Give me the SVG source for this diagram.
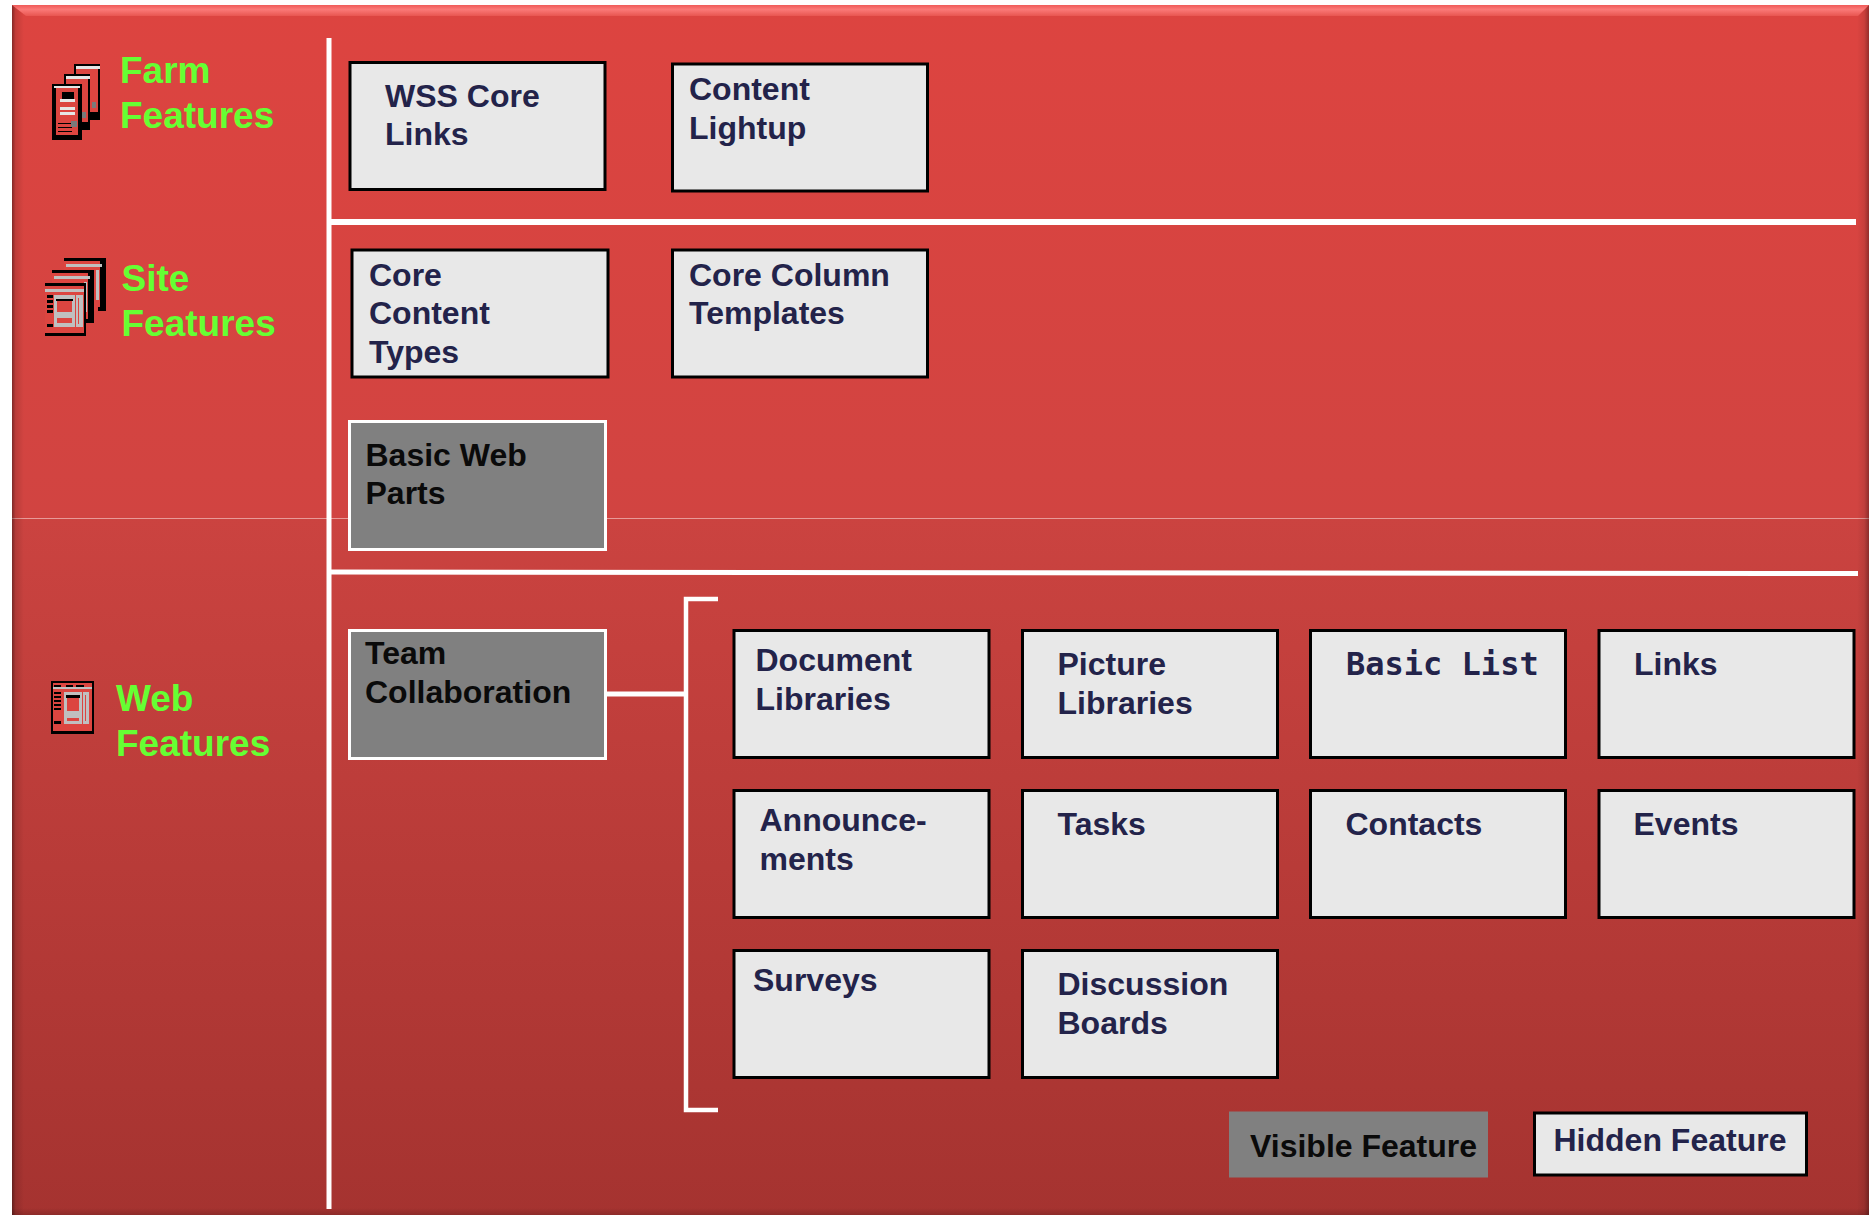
<svg xmlns="http://www.w3.org/2000/svg" width="1869" height="1215" viewBox="0 0 1869 1215">
<style>
text{font-family:"Liberation Sans",Arial,sans-serif;font-weight:700;font-size:32px;fill:#23234a}
.d text,text.d{fill:#0a0a0a}
.g{fill:#66ff33;font-size:37px}
.m{font-family:"DejaVu Sans Mono","Liberation Mono",monospace;font-size:32px}
.h{fill:#e8e8e8;stroke:#000;stroke-width:3}
.v{fill:#808080;stroke:#fff;stroke-width:3}
.w{fill:#fff}
.k{fill:#000}
.l{fill:#e6e6e6}
.s{fill:#c0c0c0}
.r{fill:#dc4540}
.y{fill:#7a7a7a}
</style>
<defs>
<linearGradient id="bg1" x1="0" y1="0" x2="0" y2="1"><stop offset="0" stop-color="#dd4440"/><stop offset="1" stop-color="#d14441"/></linearGradient>
<linearGradient id="bg2" x1="0" y1="0" x2="0" y2="1"><stop offset="0" stop-color="#cb4340"/><stop offset="1" stop-color="#a53330"/></linearGradient>
<linearGradient id="top" x1="0" y1="0" x2="0" y2="1"><stop offset="0" stop-color="#f05a58"/><stop offset=".4" stop-color="#fb7a78"/><stop offset="1" stop-color="#e85550"/></linearGradient>
<linearGradient id="lft" x1="0" y1="0" x2="1" y2="0"><stop offset="0" stop-color="#000" stop-opacity=".4"/><stop offset=".3" stop-color="#000" stop-opacity=".12"/><stop offset="1" stop-color="#000" stop-opacity="0"/></linearGradient>
<linearGradient id="rgt" x1="0" y1="0" x2="1" y2="0"><stop offset="0" stop-color="#000" stop-opacity="0"/><stop offset=".6" stop-color="#000" stop-opacity=".08"/><stop offset="1" stop-color="#000" stop-opacity=".32"/></linearGradient>
<linearGradient id="bot" x1="0" y1="0" x2="0" y2="1"><stop offset="0" stop-color="#000" stop-opacity="0"/><stop offset="1" stop-color="#000" stop-opacity=".15"/></linearGradient>
<g id="farmpage"><rect class="k" x="0" y="0" width="26" height="56"/><rect class="r" x="2" y="4" width="22" height="44"/><rect class="l" x="2" y="2" width="24" height="3"/><rect class="y" x="18" y="38" width="4" height="6"/></g>
<g id="sitepage"><rect class="k" x="0" y="0" width="42" height="53"/><rect class="r" x="0" y="3" width="36" height="46"/><rect class="s" x="2" y="6" width="36" height="3"/><rect class="s" x="32" y="12" width="3" height="30"/><rect class="r" x="0" y="49" width="34" height="4"/></g>
</defs>
<rect width="1869" height="1215" fill="#fff"/>
<rect x="12" y="5" width="1857" height="513" fill="url(#bg1)"/>
<rect x="12" y="518" width="1857" height="697" fill="url(#bg2)"/>
<rect x="12" y="518" width="1857" height="1" fill="#e89a98"/>
<rect x="12" y="5" width="12" height="1210" fill="url(#lft)"/>
<rect x="1857" y="5" width="12" height="1210" fill="url(#rgt)"/>
<rect x="12" y="1208" width="1857" height="7" fill="url(#bot)"/>
<polygon points="12,5 1869,5 1858,16 26,16" fill="url(#top)"/>

<g id="connectors">
<rect class="w" x="326.500" y="38" width="5" height="1171"/>
<rect class="w" x="331" y="219" width="1525" height="6"/>
<polygon class="w" points="331,569.500 1858,571 1858,576 331,574.500"/>
<path d="M718 599H686V1110H718" fill="none" stroke="#fff" stroke-width="4.500"/>
<rect class="w" x="606" y="691.500" width="80" height="5"/>
</g>

<g id="farm-features">
<use href="#farmpage" x="74" y="64"/><use href="#farmpage" x="64" y="74"/>
<rect class="k" x="52" y="84" width="30" height="56"/><rect class="r" x="56" y="88" width="22" height="47"/><rect class="l" x="54" y="86" width="26" height="2"/>
<rect class="k" x="62" y="92" width="12" height="10"/><rect class="l" x="60" y="99" width="15" height="3"/><rect class="l" x="60" y="107" width="15" height="3"/><rect class="l" x="60" y="112" width="15" height="3"/>
<rect class="k" x="58" y="123" width="14" height="1"/><rect class="k" x="58" y="127" width="14" height="1"/><rect class="k" x="58" y="131" width="14" height="1"/>
<rect class="y" x="71" y="121" width="6" height="6"/>
<text class="g"><tspan x="120" y="83">Farm</tspan><tspan x="120" y="128">Features</tspan></text>
</g>
<g id="site-features">
<use href="#sitepage" x="64" y="258"/><use href="#sitepage" x="52" y="270"/>
<rect class="k" x="45" y="283" width="41" height="53"/><rect class="r" x="45" y="286" width="39" height="47"/><rect class="s" x="45" y="289" width="39" height="3"/>
<rect class="k" x="47" y="295" width="6" height="3"/><rect class="k" x="47" y="300" width="6" height="3"/><rect class="k" x="47" y="305" width="6" height="3"/><rect class="k" x="47" y="310" width="6" height="3"/><rect class="k" x="47" y="324" width="6" height="3"/>
<rect class="s" x="54" y="295" width="21" height="32"/><rect class="r" x="57" y="300" width="15" height="12"/><rect class="k" x="56" y="299" width="17" height="2"/><rect class="r" x="57" y="318" width="15" height="5"/>
<rect class="s" x="76" y="295" width="7" height="32"/><rect class="r" x="78" y="298" width="1" height="26"/>
<text class="g"><tspan x="121.500" y="291">Site</tspan><tspan x="121.500" y="336">Features</tspan></text>
</g>
<g id="web-features">
<rect class="k" x="51" y="681" width="43" height="53"/><rect class="r" x="53" y="683" width="39" height="48"/><rect class="k" x="54" y="685" width="7" height="2"/><rect class="k" x="66" y="685" width="7" height="2"/><rect class="k" x="76" y="685" width="8" height="2"/><rect class="s" x="53" y="687" width="39" height="2"/>
<rect class="k" x="54" y="692" width="7" height="2"/><rect class="k" x="54" y="696" width="7" height="2"/><rect class="k" x="54" y="700" width="7" height="2"/><rect class="k" x="54" y="704" width="7" height="2"/><rect class="k" x="54" y="708" width="7" height="2"/><rect class="k" x="54" y="721" width="7" height="3"/>
<rect class="s" x="64" y="692" width="18" height="32"/><rect class="r" x="67" y="697" width="12" height="14"/><rect class="k" x="66" y="695" width="14" height="3"/><rect class="r" x="67" y="718" width="12" height="3"/>
<rect class="s" x="83" y="692" width="6" height="32"/><rect class="r" x="85" y="695" width="1" height="26"/>
<text class="g"><tspan x="116" y="711">Web</tspan><tspan x="116" y="756">Features</tspan></text>
</g>

<g id="wss-core-links"><rect class="h" x="350" y="62.500" width="255" height="127"/><text><tspan x="385" y="107">WSS Core</tspan><tspan x="385" y="145">Links</tspan></text></g>
<g id="content-lightup"><rect class="h" x="672.500" y="64" width="255" height="127"/><text><tspan x="689" y="100">Content</tspan><tspan x="689" y="139">Lightup</tspan></text></g>
<g id="core-content-types"><rect class="h" x="352" y="250" width="256" height="127"/><text><tspan x="369" y="286">Core</tspan><tspan x="369" y="324">Content</tspan><tspan x="369" y="363">Types</tspan></text></g>
<g id="core-column-templates"><rect class="h" x="672.500" y="250" width="255" height="127"/><text><tspan x="689" y="286">Core Column</tspan><tspan x="689" y="324">Templates</tspan></text></g>
<g id="basic-web-parts" class="d"><rect class="v" x="349.500" y="421.500" width="256" height="128"/><text><tspan x="365.500" y="466">Basic Web</tspan><tspan x="365.500" y="504">Parts</tspan></text></g>
<g id="team-collaboration" class="d"><rect class="v" x="349.500" y="630.500" width="256" height="128"/><text><tspan x="365" y="664">Team</tspan><tspan x="365" y="703">Collaboration</tspan></text></g>

<g id="document-libraries"><rect class="h" x="734" y="630.500" width="255" height="127"/><text><tspan x="755.500" y="671">Document</tspan><tspan x="755.500" y="710">Libraries</tspan></text></g>
<g id="picture-libraries"><rect class="h" x="1022.500" y="630.500" width="255" height="127"/><text><tspan x="1057.500" y="675">Picture</tspan><tspan x="1057.500" y="714">Libraries</tspan></text></g>
<g id="basic-list"><rect class="h" x="1310.500" y="630.500" width="255" height="127"/><text class="m" x="1346" y="675">Basic List</text></g>
<g id="links"><rect class="h" x="1599" y="630.500" width="255" height="127"/><text x="1634" y="675">Links</text></g>
<g id="announcements"><rect class="h" x="734" y="790.500" width="255" height="127"/><text><tspan x="759.500" y="831">Announce-</tspan><tspan x="759.500" y="870">ments</tspan></text></g>
<g id="tasks"><rect class="h" x="1022.500" y="790.500" width="255" height="127"/><text x="1057.500" y="835">Tasks</text></g>
<g id="contacts"><rect class="h" x="1310.500" y="790.500" width="255" height="127"/><text x="1345.500" y="835">Contacts</text></g>
<g id="events"><rect class="h" x="1599" y="790.500" width="255" height="127"/><text x="1633.500" y="835">Events</text></g>
<g id="surveys"><rect class="h" x="734" y="950.500" width="255" height="127"/><text x="753" y="991">Surveys</text></g>
<g id="discussion-boards"><rect class="h" x="1022.500" y="950.500" width="255" height="127"/><text><tspan x="1057.500" y="995">Discussion</tspan><tspan x="1057.500" y="1034">Boards</tspan></text></g>

<g id="visible-feature" class="d"><rect x="1229" y="1111.500" width="259" height="66" fill="#808080"/><text x="1250" y="1157">Visible Feature</text></g>
<g id="hidden-feature"><rect class="h" x="1534.500" y="1113" width="272" height="62"/><text x="1553.500" y="1151">Hidden Feature</text></g>
</svg>
